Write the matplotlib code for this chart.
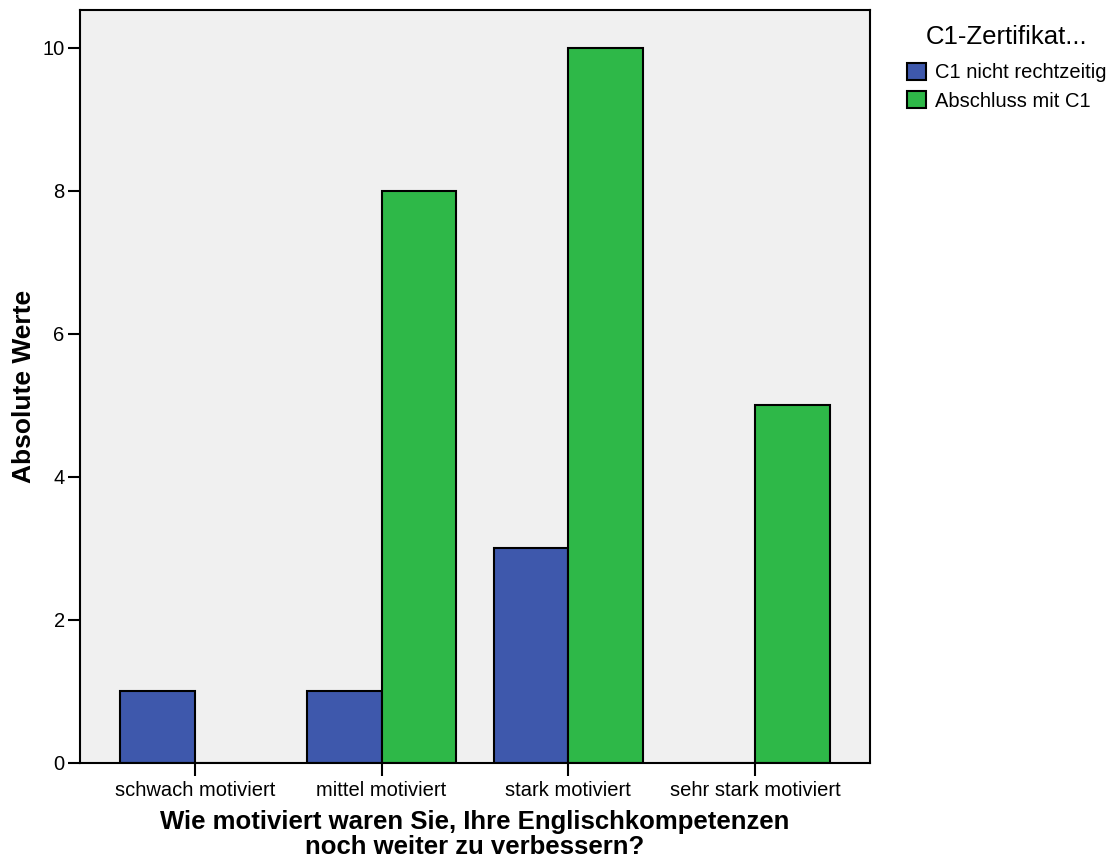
import numpy as np
import matplotlib
matplotlib.use("Agg")
import matplotlib.pyplot as plt

plt.rcParams['font.family'] = ['Liberation Sans', 'DejaVu Sans']

# data
categories = ["schwach motiviert", "mittel motiviert", "stark motiviert", "sehr stark motiviert"]
nicht_rechtzeitig = [1, 1, 3, 0]
abschluss_c1 = [0, 8, 10, 5]
series_names = ["C1 nicht rechtzeitig", "Abschluss mit C1"]
legend_title = "C1-Zertifikat..."

blue = "#3E58AC"
green = "#2EB848"

fig = plt.figure(figsize=(11.13, 8.58), dpi=100)
ax = fig.add_axes([80/1113, 95/858, 790/1113, 753/858])
ax.set_facecolor("#F0F0F0")

x = np.arange(len(categories))
w = 0.4
ax.bar(x - w/2, nicht_rechtzeitig, w, color=blue, edgecolor="black", linewidth=1.5, label=series_names[0])
ax.bar(x + w/2, abschluss_c1, w, color=green, edgecolor="black", linewidth=1.5, label=series_names[1])

ax.set_xlim(-0.615, 3.615)
ax.set_ylim(0, 10.53)
ax.set_xticks(x)
ax.set_xticklabels(categories, fontsize=14.5)
ax.set_yticks([0, 2, 4, 6, 8, 10])
ax.tick_params(axis='y', labelsize=14.5, length=9, width=1.5, direction='out', pad=2)
ax.tick_params(axis='x', length=9, width=1.5, direction='out', pad=4)
for s in ax.spines.values():
    s.set_linewidth(1.5)

# two-line axis title, drawn as separate lines to keep them tight but apart
xl1 = "Wie motiviert waren Sie, Ihre Englischkompetenzen"
xl2 = "noch weiter zu verbessern?"
cx = (80 + 870) / 2 / 1113
fig.text(cx, 1 - 829/858, xl1, fontsize=18.5, fontweight='bold', ha='center', va='baseline')
fig.text(cx, 1 - 854/858, xl2, fontsize=18.5, fontweight='bold', ha='center', va='baseline')
ax.set_ylabel("Absolute Werte", fontsize=19, fontweight='bold', labelpad=5)

leg = fig.legend(loc='upper left', bbox_to_anchor=(907/1113, 1 - 25/858), frameon=False,
                 title=legend_title, fontsize=14.5, title_fontsize=18.5,
                 handlelength=0.95, handleheight=0.95, handletextpad=0.45, labelspacing=0.42,
                 borderaxespad=0, borderpad=0)
leg._legend_box.sep = 10

fig.savefig("out.png", dpi=100)
